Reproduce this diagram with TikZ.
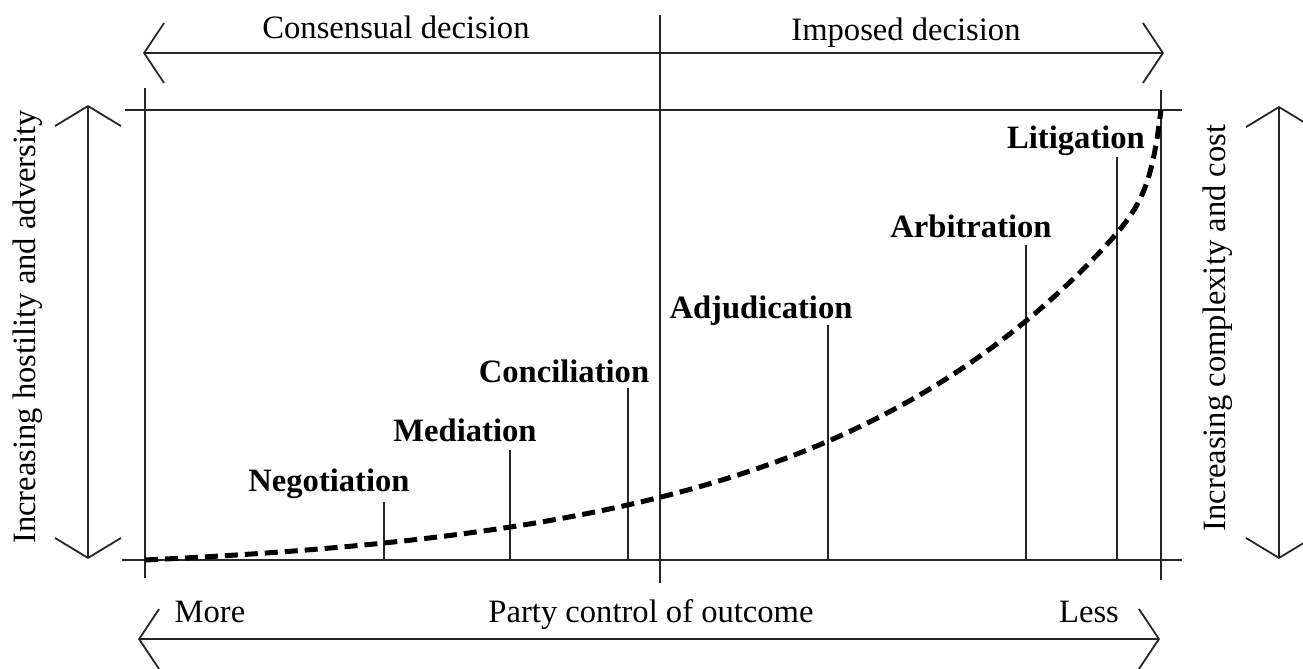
\documentclass[tikz,border=0pt]{standalone}
\usepackage{fontspec}
\setmainfont{Liberation Serif}
\usetikzlibrary{arrows.meta}
\begin{document}
\begin{tikzpicture}[x=0.5pt,y=-0.5pt,
  thinline/.style={line width=0.9pt, draw=black!85},
  harrow/.style={thinline, {Straight Barb[length=10pt,width=30pt]}-{Straight Barb[length=10pt,width=30pt]}},
  varrow/.style={thinline, {Straight Barb[length=10pt,width=33pt]}-{Straight Barb[length=10pt,width=33pt]}},
  lab/.style={font=\fontsize{16.3pt}{19pt}\selectfont, inner sep=0pt, anchor=base},
  blab/.style={lab, font=\fontsize{16.3pt}{19pt}\selectfont\bfseries},
  curve/.style={line width=2.5pt, dash pattern=on 6.5pt off 3.5pt}]
\useasboundingbox (0,0) rectangle (1303,669);
% arrow ends
\coordinate (tl) at (143,53);  \coordinate (tr) at (1164,53);
\coordinate (bl) at (138,639); \coordinate (br) at (1160,639);
\coordinate (lt) at (88,105);  \coordinate (lb) at (88,559);
\coordinate (rt) at (1279,106); \coordinate (rb) at (1279,559);
% frame
\coordinate (h1a) at (125,110); \coordinate (h1b) at (1182,110);
\coordinate (h2a) at (122,560); \coordinate (h2b) at (1182,560);
\coordinate (v1a) at (145,88);  \coordinate (v1b) at (145,578);
\coordinate (v2a) at (1161,90); \coordinate (v2b) at (1161,580);
\coordinate (vma) at (660,15);  \coordinate (vmb) at (660,583);
\draw[harrow] (tl) -- (tr);
\draw[harrow] (bl) -- (br);
\draw[varrow] (lt) -- (lb);
\draw[varrow] (rt) -- (rb);
\draw[thinline] (h1a) -- (h1b);
\draw[thinline] (h2a) -- (h2b);
\draw[thinline] (v1a) -- (v1b);
\draw[thinline] (v2a) -- (v2b);
\draw[thinline] (vma) -- (vmb);
% ticks
\foreach \n/\x/\y in {neg/384/502, med/510/450, con/628/388, adj/828/325, arb/1026/245, lit/1117/157}{
  \coordinate (\n top) at (\x,\y);
  \coordinate (\n bot) at (\x,560);
  \draw[thinline] (\n bot) -- (\n top);
}
% curve
\draw[curve] plot[domain=0:0.9, samples=90] ({145+1016*\x},{560-14.5*(exp(3.3*\x)-1)})
  -- plot[domain=0.9:1, samples=60] ({145+1016*\x},{560-14.5*(exp(3.3*\x)-1)-72*exp(105*(\x-1))});
% labels
\node[lab] (cons) at (396,39) {Consensual decision};
\node[lab] (imp) at (906,40) {Imposed decision};
\node[lab] (more) at (210,622) {More};
\node[lab] (party) at (651,622) {Party control of outcome};
\node[lab] (less) at (1089,622) {Less};
\node[lab, rotate=90] (host) at (35,327) {Increasing hostility and adversity};
\node[lab, rotate=90] (cplx) at (1225,328) {Increasing complexity and cost};
\node[blab] (Lneg) at (329,491) {Negotiation};
\node[blab] (Lmed) at (465,441) {Mediation};
\node[blab] (Lcon) at (564,382) {Conciliation};
\node[blab] (Ladj) at (761,318) {Adjudication};
\node[blab] (Larb) at (971,237) {Arbitration};
\node[blab] (Llit) at (1076,148) {Litigation};
\end{tikzpicture}
\end{document}
